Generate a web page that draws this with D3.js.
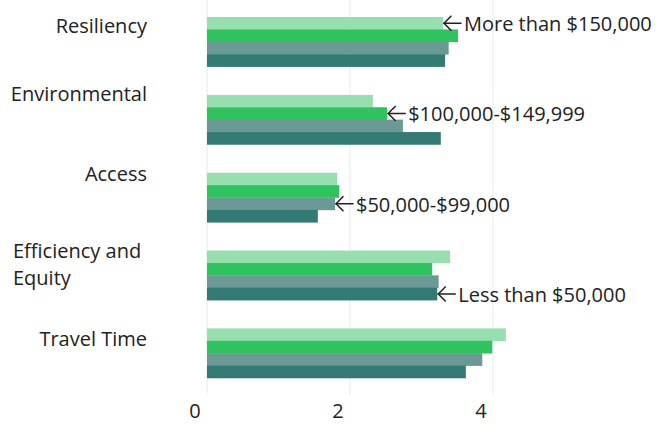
<!DOCTYPE html>
<html>
<head>
<meta charset="utf-8">
<script src="https://cdn.jsdelivr.net/npm/d3@7"></script>
<style>
  html, body { margin: 0; padding: 0; background: #fff; }
  svg { display: block; }
  text { font-family: "Open Sans", sans-serif; fill: #222; }
</style>
</head>
<body>
<svg id="chart" width="666" height="424"></svg>
<script>
// Priority ratings by household income
const categories = ["Resiliency", "Environmental", "Access", "Efficiency and Equity", "Travel Time"];
const seriesNames = ["More than $150,000", "$100,000-$149,999", "$50,000-$99,000", "Less than $50,000"];
const over150k   = [3.30, 2.32, 1.82, 3.40, 4.18];
const from100k   = [3.51, 2.52, 1.85, 3.15, 3.99];
const from50k    = [3.38, 2.74, 1.79, 3.24, 3.85];
const under50k   = [3.33, 3.27, 1.55, 3.22, 3.62];
const tickValues = [0, 2, 4];

const seriesValues = [over150k, from100k, from50k, under50k];
const colors = ["#98dfb0", "#2fc25f", "#6a9a93", "#337a74"];

// each series label points at one bar: [series index, category index]
const callouts = [[0, 0], [1, 1], [2, 2], [3, 3]];

const svg = d3.select("#chart");

const x = d3.scaleLinear().domain([0, 4]).range([207, 493]);
const y0 = d3.scaleBand().domain(categories).range([3, 392])
  .paddingInner(0.363).paddingOuter(0.18);
const y1 = d3.scaleBand().domain(d3.range(seriesNames.length))
  .range([0, y0.bandwidth()]).padding(0);

// faint vertical gridlines
svg.append("g").selectAll("line").data(tickValues).join("line")
  .attr("x1", d => x(d)).attr("x2", d => x(d))
  .attr("y1", 0).attr("y2", 395)
  .attr("stroke", "#f1f1f1").attr("stroke-width", 1.5);

// bars
const groups = svg.append("g").selectAll("g").data(categories).join("g")
  .attr("transform", c => `translate(0,${y0(c)})`);
groups.selectAll("rect")
  .data((c, ci) => seriesValues.map((vals, si) => ({ si, v: vals[ci] })))
  .join("rect")
  .attr("x", x(0))
  .attr("y", d => y1(d.si))
  .attr("width", d => x(d.v) - x(0))
  .attr("height", y1.bandwidth() + 0.3)
  .attr("fill", d => colors[d.si]);

// category labels
const labelRight = 147;
const labelNudge = [-8.5, -18.5, -16.5, -17.5, -7];
categories.forEach((c, i) => {
  const base = y0(c) + y0.bandwidth() / 2 + labelNudge[i];
  if (c === "Efficiency and Equity") {
    const t = svg.append("text").attr("font-size", 20).attr("x", 13).attr("y", base);
    t.append("tspan").attr("x", 13).text("Efficiency and");
    t.append("tspan").attr("x", 13).attr("dy", 27).text("Equity");
  } else {
    svg.append("text").attr("font-size", 20)
      .attr("x", labelRight).attr("y", base)
      .attr("text-anchor", "end").text(c);
  }
});

// x axis tick labels
svg.append("g").selectAll("text").data(tickValues).join("text")
  .attr("x", d => x(d) - 12).attr("y", 418)
  .attr("text-anchor", "middle").attr("font-size", 20)
  .text(d => d);

// series callouts with arrows
callouts.forEach(([si, ci]) => {
  const v = seriesValues[si][ci];
  const bx = x(v);
  const by = y0(categories[ci]) + y1(si) + y1.bandwidth() / 2;
  // arrow
  const g = svg.append("g").attr("stroke", "#222").attr("stroke-width", 1.6)
    .attr("fill", "none").attr("stroke-linecap", "round").attr("stroke-linejoin", "round");
  g.append("path").attr("d", `M${bx + 1},${by} H${bx + 18}`);
  g.append("path").attr("d", `M${bx + 8},${by - 7} L${bx + 1},${by} L${bx + 8},${by + 7}`);
  svg.append("text").attr("font-size", 20)
    .attr("x", bx + 21).attr("y", by + 8)
    .text(seriesNames[si]);
});
</script>
</body>
</html>
